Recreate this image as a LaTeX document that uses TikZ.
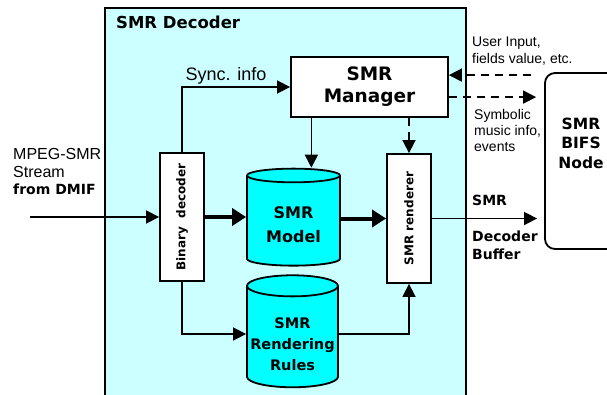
\documentclass[tikz,border=0pt]{standalone}
\usepackage{fontspec}
\setmainfont{Liberation Sans}
\newfontfamily\verdfont{DejaVu Sans}
\usetikzlibrary{arrows.meta,calc,shapes.geometric}
\definecolor{decfill}{RGB}{204,255,255}
\definecolor{dbfill}{RGB}{0,255,255}
\newcommand{\fsz}[2]{\fontsize{#1}{#2}\selectfont}

\begin{document}
\begin{tikzpicture}[x=1pt,y=-1pt,
  box/.style={draw,line width=1.8pt,fill=white,inner sep=0pt,align=center},
  db/.style={cylinder,shape border rotate=90,aspect=0.25,draw,line width=1.8pt,
    fill=dbfill,inner sep=0pt,align=center},
  arr/.style={line width=1.6pt,-{Triangle[length=13pt,width=13pt]}},
  fat/.style={line width=4pt,-{Triangle[length=14pt,width=17pt]}},
  dsh/.style={arr,dash pattern=on 8pt off 6pt},
  bf/.style 2 args={font=\verdfont\bfseries\fsz{#1}{#2}},
  rm/.style 2 args={font=\fsz{#1}{#2}}]
  \useasboundingbox (0,0) rectangle (607,394);
  \clip (0,0) rectangle (607,394);
  \draw[line width=1.8pt,fill=decfill] (105,8) rectangle (466,410);
  \node[bf={16.5}{20},anchor=west,inner sep=0pt] (title) at (116,22) {SMR Decoder};

  \node[box,minimum width=157,minimum height=60,bf={18.5}{22}] (mgr) at (369.5,87) {SMR\\Manager};
  \node[box,minimum width=44,minimum height=128,bf={12}{14}] (bin) at (182,217) {\rotatebox{90}{Binary\ \ decoder}};
  \node[box,minimum width=44,minimum height=129,bf={12}{14}] (rend) at (409,218.5) {\rotatebox{90}{SMR renderer}};
  \node[db,minimum width=93,minimum height=97,bf={16}{24}] (model) at (293.5,221) {\rule{0pt}{19.5pt}SMR\\Model};
  \node[db,minimum width=91,minimum height=112,bf={14.5}{21}] (rules) at (292.5,337) {\rule{0pt}{26pt}SMR\\Rendering\\Rules};
  \node[draw,line width=1.8pt,rounded corners=10pt,minimum width=72,minimum height=176,
    label={[align=center,bf={15.5}{19.5},yshift=18pt]center:SMR\\BIFS\\Node}] (bifs) at (581,161) {};

  \node[rm={18}{21}] (sync) at (226,76) {Sync. info};
  \node[rm={14}{17},anchor=west,align=left,inner sep=0pt] (user) at (472,51.5) {User Input,\\fields value, etc.};
  \node[rm={14}{16},anchor=west,align=left,inner sep=0pt] (symb) at (474,130) {Symbolic\\music info,\\events};
  \node[rm={16}{17.5},anchor=west,align=left,inner sep=0pt] (mpeg) at (13,172) {MPEG-SMR\\Stream\\{\verdfont\bfseries\fsz{14}{17.5}from DMIF}};
  \node[bf={14}{17},anchor=west,inner sep=0pt] (outa) at (472,200) {SMR};
  \node[bf={14}{18},anchor=west,align=left,inner sep=0pt] (outb) at (472,245) {Decoder\\Buffer};

  \coordinate (in) at (30,217);
  \coordinate (m) at ($(mgr.south west)!0.134!(mgr.south east)$);
  \coordinate (u) at ($(mgr.north east)+(0,19)$);
  \coordinate (s) at ($(mgr.north east)+(0,41)$);
  \coordinate (r) at ($(rules.west)+(0,-3)$);
  \draw[arr] (in) -- (bin.west);
  \draw[arr] (bin.north) |- (mgr.west);
  \draw[arr] (bin.south) |- (r);
  \draw[fat] (bin.east) -- (bin.east -| model.west);
  \draw[fat] (rend.west -| model.east) -- (rend.west);
  \draw[arr] (r -| rules.east) -| (rend.south);
  \draw[arr] (m) -- (m |- model.north);
  \draw[dsh] (rend.north |- mgr.south) -- (rend.north);
  \draw[arr,shorten >=7pt] (rend.east) -- (rend.east -| bifs.west);
  \draw[dsh,shorten <=13pt] (u -| bifs.west) -- (u);
  \draw[dsh,shorten >=8pt] (s) -- (s -| bifs.west);
\end{tikzpicture}
\end{document}
